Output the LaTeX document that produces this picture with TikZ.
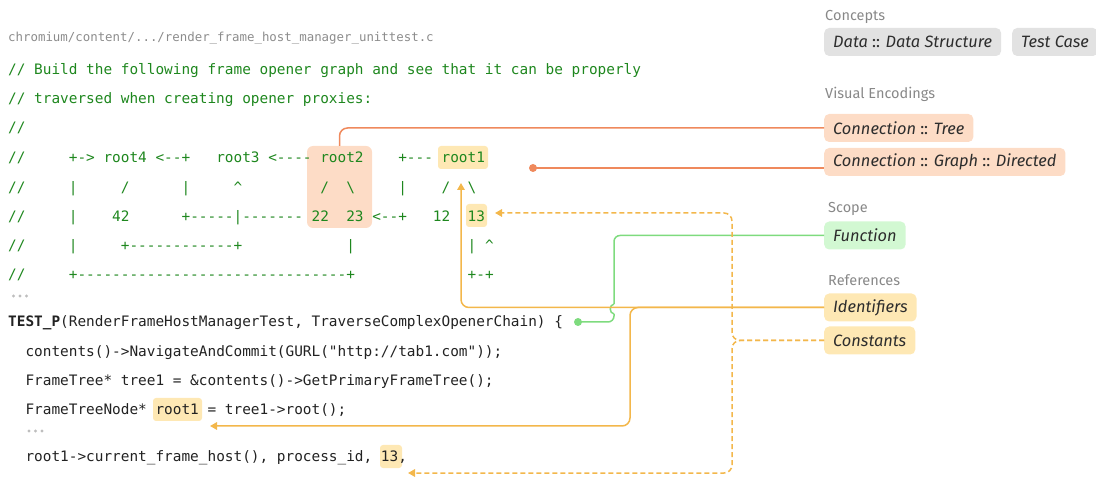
\documentclass[tikz,border=0pt]{standalone}
\usepackage{fontspec}
\setmainfont{Fira Sans}
\setmonofont{DejaVu Sans Mono}
\usetikzlibrary{arrows.meta}
\definecolor{cmtgreen}{RGB}{30,135,30}
\definecolor{codeblack}{RGB}{34,34,34}
\definecolor{hdrgray}{RGB}{140,140,140}
\definecolor{labgray}{RGB}{136,136,136}
\definecolor{peach}{RGB}{253,220,198}
\definecolor{hlyel}{RGB}{254,232,180}
\definecolor{pillgray}{RGB}{226,226,226}
\definecolor{pillgreen}{RGB}{210,248,210}
\definecolor{lorange}{RGB}{239,137,92}
\definecolor{lyellow}{RGB}{243,183,75}
\definecolor{lgreen}{RGB}{126,219,126}
\definecolor{dotgray}{RGB}{190,190,190}
\definecolor{pilltext}{RGB}{45,45,45}
\newlength\cwd \setlength\cwd{8.6695pt}
\newcommand\spc[1]{\hspace*{#1\cwd}}
\newcommand\bsl{\textbackslash}
\newcommand\crt{\textasciicircum}
\tikzset{
  code/.style={anchor=mid west, yshift=-3pt, inner sep=0pt, text=codeblack, font=\ttfamily\fontsize{14.4}{16}\selectfont},
  cmt/.style={code, text=cmtgreen},
  hdr/.style={anchor=mid west, yshift=-3pt, inner sep=0pt, text=hdrgray, font=\ttfamily\fontsize{12.4}{14}\selectfont},
  hlbox/.style={draw=none, inner sep=0pt, rounded corners=3pt},
  pill/.style={anchor=west, rounded corners=5pt, inner xsep=9pt, inner ysep=0pt, minimum height=28pt, text=pilltext, font=\fontsize{16.4}{18}\selectfont\itshape},
  cat/.style={anchor=mid west, yshift=-3pt, inner sep=0pt, text=labgray, font=\fontsize{14.5}{16}\selectfont},
  conn/.style={line width=1.5pt},
  dsh/.style={dash pattern=on 5pt off 3pt},
  tip/.style={-{Triangle[length=7pt,width=7.5pt]}}
}
\begin{document}
\begin{tikzpicture}[x=1pt,y=-1pt]
\useasboundingbox (0,0) rectangle (1096,478);
% highlights
\node[hlbox, fill=peach, rounded corners=6pt, minimum width=65pt, minimum height=82pt] (r2box) at (339.5,187) {};
\node[hlbox, fill=hlyel, minimum width=50pt, minimum height=23pt] (r1hl) at (463,157.5) {};
\node[hlbox, fill=hlyel, minimum width=21pt, minimum height=23pt] (n13hl) at (476.5,215.5) {};
\node[hlbox, fill=hlyel, minimum width=49pt, minimum height=23pt] (cr1hl) at (177.5,409.5) {};
\node[hlbox, fill=hlyel, minimum width=22pt, minimum height=23pt] (c13hl) at (391,456.5) {};
% code text
\node[hdr] (hdr) at (8,36) {chromium/content/.../render\_frame\_host\_manager\_unittest.c};
\node[cmt] (c1) at (8,69) {// Build the following frame opener graph and see that it can be properly};
\node[cmt] (c2) at (8,98) {// traversed when creating opener proxies:};
\node[cmt] (c3) at (8,127) {//};
\node[cmt] (g1) at (8,157) {//\spc{5}+->\spc{1}root4\spc{1}<--+\spc{3}root3\spc{1}<----\spc{1}root2\spc{4}+---\spc{1}root1};
\node[cmt] (g2) at (8,187) {//\spc{5}|\spc{5}/\spc{6}|\spc{5}\crt\spc{9}/\spc{2}\bsl\spc{5}|\spc{4}/\spc{2}\bsl};
\node[cmt] (g3) at (8,216) {//\spc{5}|\spc{4}42\spc{6}+-----|-------\spc{1}22\spc{2}23\spc{1}<--+\spc{3}12\spc{2}13};
\node[cmt] (g4) at (8,245) {//\spc{5}|\spc{5}+------------+\spc{12}|\spc{13}|\spc{1}\crt};
\node[cmt] (g5) at (8,274) {//\spc{5}+-------------------------------+\spc{13}+-+};
\foreach \x in {13.5,20,26.5} \fill[dotgray] (\x,296) circle (1.6pt);
\node[code] (t1) at (8,321) {\textbf{TEST\_P}(RenderFrameHostManagerTest, TraverseComplexOpenerChain) \{};
\node[code] (t2) at (8,351) {\spc{2}contents()->NavigateAndCommit(GURL("http://tab1.com"));};
\node[code] (t3) at (8,380) {\spc{2}FrameTree* tree1 = \&contents()->GetPrimaryFrameTree();};
\node[code] (t4) at (8,409) {\spc{2}FrameTreeNode* root1 = tree1->root();};
\foreach \x in {29,35.5,42} \fill[dotgray] (\x,431) circle (1.6pt);
\node[code] (t5) at (8,456) {\spc{2}root1->current\_frame\_host(), process\_id, 13,};
% right panel
\node[cat] (lc) at (825,15) {Concepts};
\node[pill, fill=pillgray] (pdata) at (824,42) {Data \textup{::} Data Structure};
\node[pill, fill=pillgray] (ptest) at (1012,42) {Test Case};
\node[cat] (lv) at (825,93) {Visual Encodings};
\node[pill, fill=peach] (ptree) at (824,128) {Connection \textup{::} Tree};
\node[pill, fill=peach] (pdir) at (824,162) {Connection \textup{::} Graph \textup{::} Directed};
\node[cat] (ls) at (828,207) {Scope};
\node[pill, fill=pillgreen] (pfun) at (824,235.5) {Function};
\node[cat] (lr) at (828,280) {References};
\node[pill, fill=hlyel] (pid) at (824,307.5) {Identifiers};
\node[pill, fill=hlyel] (pcon) at (824,340.5) {Constants};
% connectors
\draw[conn, lorange, rounded corners=8pt] (ptree.west) -| (r2box.north);
\coordinate (gdot) at (533,168);
\fill[lorange] (gdot) circle (4pt);
\draw[conn, lorange] (gdot) -- (gdot -| pdir.west);
\coordinate (fdot) at (578,322);
\fill[lgreen] (fdot) circle (4pt);
\draw[conn, lgreen, rounded corners=6pt] (fdot) -- (614,322) -- (614,314);
\draw[conn, lgreen] (614,314) .. controls (609,313) and (609,305) .. (614,304);
\draw[conn, lgreen, rounded corners=6pt] (614,304) |- (pfun.west);
\coordinate (r1tip) at (461,183);
\coordinate (cr1tip) at (210,426);
\draw[conn, lyellow, rounded corners=8pt, tip] (pid.west) -| (r1tip);
\draw[conn, lyellow, rounded corners=8pt, tip] (pid.west) -| (630,426) -- (cr1tip);
\coordinate (n13tip) at (495,213);
\coordinate (c13tip) at (408,473);
\draw[conn, lyellow, dsh, rounded corners=8pt, tip] (pcon.west) -- (732,340.5) -- (732,213) -- (n13tip);
\draw[conn, lyellow, dsh, rounded corners=8pt, tip] (pcon.west) -- (732,340.5) -- (732,473) -- (c13tip);
\end{tikzpicture}
\end{document}
